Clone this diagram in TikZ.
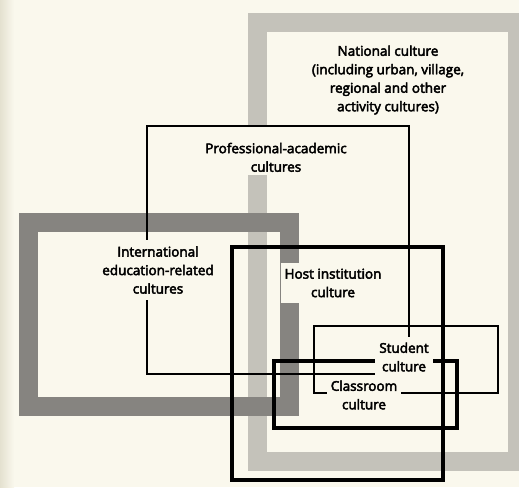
\documentclass[tikz,border=0pt]{standalone}
\usepackage{fontspec}
\newfontfamily\lblfont{Open Sans}
\newcommand\inkfont{\lblfont\fontsize{13.5}{18.5}\selectfont\special{pdf:literal direct 2 Tr 0.45 w}}
\definecolor{paper}{RGB}{250,248,237}
\definecolor{gutter}{RGB}{228,225,208}
\definecolor{lightframe}{RGB}{196,194,186}
\definecolor{darkframe}{RGB}{134,132,128}

\begin{document}
\begin{tikzpicture}[
  x=1pt,y=-1pt,
  lbl/.style={fill=paper,align=center,inner xsep=4pt,inner ysep=6pt,
    text=black,font=\inkfont},
  band/.style={line width=19pt},
  linebox/.style={line width=1.4pt},
  boldbox/.style={line width=4.8pt}]
  \useasboundingbox (0,0) rectangle (519,487);
  \clip (0,0) rectangle (519,487);
  \fill[paper] (0,0) rectangle (519,487);
  \fill[left color=gutter,right color=paper] (0,0) rectangle (14,487);
  \draw[band,lightframe] (257.5,23) rectangle (517.5,461);
  \draw[band,darkframe] (28.5,222) rectangle (289.5,406.5);
  \node[lbl,inner ysep=3pt](profac) at (276,150){\rule{0pt}{25pt}Professional-academic\\cultures};
  \node[lbl](host) at (333,283){Host institution\\culture};
  \draw[linebox] (147,126) rectangle (409,374);
  \draw[linebox] (314,326) rectangle (498,393);
  \draw[boldbox] (232,247) rectangle (443,480);
  \draw[boldbox] (274,361) rectangle (457,428);
  \node[lbl](national) at (388,80){National culture\\(including urban, village,\\regional and other\\activity cultures)};
  \node[lbl](intl) at (158,270){International\\education-related\\cultures};
  \node[lbl](student) at (404,357){Student\\culture};
  \node[lbl](classroom) at (364,395){Classroom\\culture};
\end{tikzpicture}
\end{document}
